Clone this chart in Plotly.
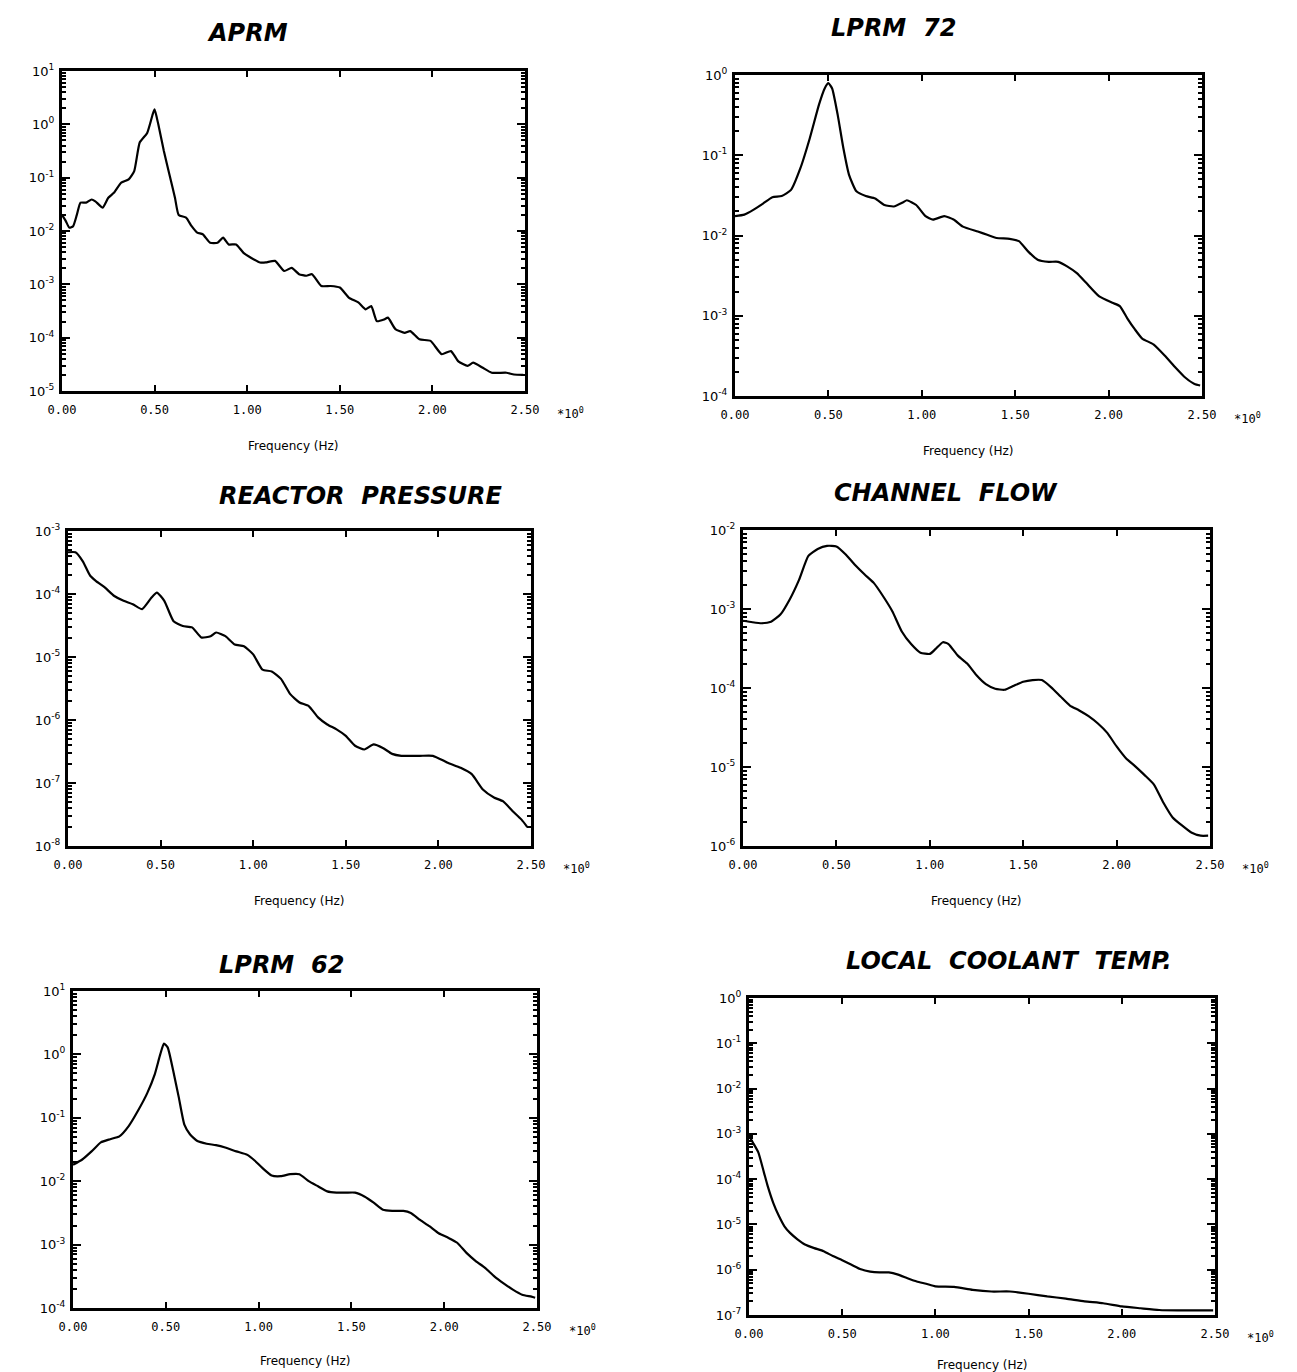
import plotly.graph_objects as go

W, H = 1297, 1372

# ---------------- data ----------------
aprm_f = [0.00, 0.02, 0.04, 0.06, 0.08, 0.10, 0.13, 0.16, 0.18, 0.22, 0.25, 0.28, 0.32, 0.36, 0.39,
          0.42, 0.46, 0.49, 0.50, 0.52, 0.55, 0.58, 0.61, 0.63, 0.67, 0.70, 0.73, 0.76, 0.80, 0.84,
          0.87, 0.90, 0.94, 0.98, 1.02, 1.07, 1.10, 1.15, 1.20, 1.24, 1.28, 1.32, 1.35, 1.40, 1.45,
          1.50, 1.55, 1.60, 1.64, 1.67, 1.70, 1.74, 1.76, 1.80, 1.85, 1.88, 1.93, 1.99, 2.05, 2.10,
          2.14, 2.19, 2.22, 2.27, 2.32, 2.40, 2.44, 2.49]
aprm_psd = [2.0e-2, 1.55e-2, 1.15e-2, 1.23e-2, 2.0e-2, 3.4e-2, 3.4e-2, 3.9e-2, 3.6e-2, 2.75e-2, 4.2e-2,
            5.2e-2, 8.1e-2, 9.3e-2, 1.33e-1, 4.6e-1, 6.9e-1, 1.55, 1.9, 1.0, 3.16e-1, 1.15e-1, 4.2e-2,
            2.0e-2, 1.78e-2, 1.23e-2, 9.3e-3, 8.7e-3, 6.0e-3, 6.0e-3, 7.5e-3, 5.6e-3, 5.6e-3, 3.9e-3,
            3.16e-3, 2.57e-3, 2.57e-3, 2.75e-3, 1.78e-3, 2.04e-3, 1.55e-3, 1.45e-3, 1.55e-3, 9.3e-4,
            9.3e-4, 8.7e-4, 5.6e-4, 4.6e-4, 3.4e-4, 3.9e-4, 2.04e-4, 2.2e-4, 2.37e-4, 1.45e-4, 1.23e-4,
            1.33e-4, 9.3e-5, 8.7e-5, 4.9e-5, 5.6e-5, 3.6e-5, 2.95e-5, 3.4e-5, 2.75e-5, 2.2e-5, 2.2e-5,
            2.04e-5, 2.0e-5]

lprm72_f = [0.00, 0.05, 0.10, 0.15, 0.20, 0.25, 0.30, 0.35, 0.40, 0.45, 0.48, 0.50, 0.52, 0.55, 0.58,
            0.61, 0.65, 0.70, 0.75, 0.80, 0.85, 0.90, 0.92, 0.97, 1.02, 1.06, 1.12, 1.17, 1.22, 1.30,
            1.35, 1.40, 1.47, 1.52, 1.57, 1.62, 1.68, 1.73, 1.78, 1.83, 1.88, 1.95, 2.02, 2.06, 2.10,
            2.14, 2.18, 2.24, 2.30, 2.36, 2.41, 2.46, 2.49]
lprm72_psd = [1.74e-2, 1.82e-2, 2.1e-2, 2.5e-2, 3.0e-2, 3.1e-2, 3.7e-2, 6.9e-2, 1.62e-1, 4.3e-1, 6.8e-1,
              7.9e-1, 6.8e-1, 3.16e-1, 1.23e-1, 5.75e-2, 3.55e-2, 3.1e-2, 2.9e-2, 2.4e-2, 2.3e-2, 2.6e-2,
              2.75e-2, 2.4e-2, 1.74e-2, 1.58e-2, 1.74e-2, 1.58e-2, 1.29e-2, 1.12e-2, 1.02e-2, 9.3e-3,
              9.1e-3, 8.5e-3, 6.3e-3, 5.0e-3, 4.7e-3, 4.7e-3, 4.1e-3, 3.4e-3, 2.57e-3, 1.74e-3, 1.45e-3,
              1.32e-3, 9.3e-4, 6.8e-4, 5.2e-4, 4.4e-4, 3.2e-4, 2.24e-4, 1.7e-4, 1.41e-4, 1.35e-4]

press_f = [0.00, 0.04, 0.08, 0.12, 0.15, 0.20, 0.25, 0.30, 0.35, 0.40, 0.45, 0.48, 0.52, 0.57, 0.62,
           0.67, 0.72, 0.77, 0.80, 0.85, 0.90, 0.95, 1.00, 1.05, 1.10, 1.15, 1.20, 1.25, 1.30, 1.35,
           1.40, 1.45, 1.50, 1.55, 1.60, 1.65, 1.70, 1.75, 1.80, 1.90, 1.97, 2.05, 2.12, 2.18, 2.24,
           2.30, 2.35, 2.40, 2.45, 2.48]
press_psd = [4.6e-4, 4.6e-4, 3.3e-4, 1.95e-4, 1.62e-4, 1.26e-4, 9.3e-5, 7.8e-5, 6.9e-5, 5.75e-5, 8.7e-5,
             1.05e-4, 7.8e-5, 3.7e-5, 3.1e-5, 2.95e-5, 2.04e-5, 2.14e-5, 2.45e-5, 2.14e-5, 1.58e-5,
             1.48e-5, 1.1e-5, 6.3e-6, 5.9e-6, 4.5e-6, 2.57e-6, 1.9e-6, 1.66e-6, 1.1e-6, 8.5e-7, 7.1e-7,
             5.6e-7, 3.9e-7, 3.4e-7, 4.1e-7, 3.6e-7, 2.9e-7, 2.7e-7, 2.7e-7, 2.7e-7, 2.1e-7, 1.74e-7,
             1.38e-7, 7.9e-8, 5.9e-8, 5.1e-8, 3.6e-8, 2.6e-8, 2.0e-8]

flow_f = [0.00, 0.05, 0.10, 0.15, 0.20, 0.25, 0.30, 0.35, 0.40, 0.45, 0.50, 0.55, 0.60, 0.65, 0.70,
          0.75, 0.80, 0.85, 0.90, 0.95, 1.00, 1.03, 1.07, 1.10, 1.15, 1.20, 1.25, 1.30, 1.35, 1.40,
          1.45, 1.50, 1.55, 1.60, 1.65, 1.70, 1.75, 1.80, 1.85, 1.90, 1.95, 2.00, 2.05, 2.10, 2.15,
          2.20, 2.25, 2.30, 2.35, 2.40, 2.45, 2.49]
flow_psd = [7.1e-4, 6.8e-4, 6.6e-4, 6.9e-4, 8.5e-4, 1.32e-3, 2.34e-3, 4.7e-3, 5.75e-3, 6.3e-3, 6.2e-3,
            4.9e-3, 3.6e-3, 2.75e-3, 2.14e-3, 1.45e-3, 9.3e-4, 5.2e-4, 3.6e-4, 2.8e-4, 2.7e-4, 3.1e-4,
            3.8e-4, 3.6e-4, 2.57e-4, 2.04e-4, 1.45e-4, 1.12e-4, 9.8e-5, 9.5e-5, 1.07e-4, 1.2e-4,
            1.26e-4, 1.26e-4, 1.02e-4, 7.8e-5, 6.0e-5, 5.2e-5, 4.4e-5, 3.55e-5, 2.7e-5, 1.82e-5,
            1.29e-5, 1.02e-5, 7.9e-6, 6.0e-6, 3.55e-6, 2.3e-6, 1.82e-6, 1.48e-6, 1.35e-6, 1.35e-6]

lprm62_f = [0.00, 0.05, 0.10, 0.15, 0.20, 0.25, 0.30, 0.35, 0.40, 0.44, 0.47, 0.49, 0.51, 0.54, 0.57,
            0.60, 0.63, 0.67, 0.72, 0.77, 0.82, 0.88, 0.94, 0.98, 1.02, 1.07, 1.12, 1.17, 1.22, 1.27,
            1.32, 1.37, 1.42, 1.47, 1.52, 1.57, 1.62, 1.67, 1.72, 1.78, 1.82, 1.87, 1.92, 1.97, 2.02,
            2.07, 2.12, 2.17, 2.22, 2.27, 2.32, 2.37, 2.42, 2.47, 2.49]
lprm62_psd = [1.82e-2, 2.2e-2, 2.95e-2, 4.1e-2, 4.6e-2, 5.1e-2, 7.4e-2, 1.29e-1, 2.45e-1, 4.8e-1, 1.0,
              1.48, 1.29, 5.5e-1, 2.1e-1, 7.8e-2, 5.5e-2, 4.3e-2, 3.9e-2, 3.7e-2, 3.4e-2, 2.95e-2,
              2.6e-2, 2.1e-2, 1.62e-2, 1.23e-2, 1.2e-2, 1.29e-2, 1.29e-2, 1.0e-2, 8.3e-3, 6.9e-3,
              6.6e-3, 6.6e-3, 6.6e-3, 5.75e-3, 4.6e-3, 3.55e-3, 3.4e-3, 3.4e-3, 3.16e-3, 2.45e-3,
              1.95e-3, 1.51e-3, 1.29e-3, 1.07e-3, 7.4e-4, 5.5e-4, 4.3e-4, 3.16e-4, 2.45e-4, 1.95e-4,
              1.62e-4, 1.51e-4, 1.45e-4]

temp_f = [0.00, 0.02, 0.05, 0.08, 0.10, 0.13, 0.16, 0.19, 0.22, 0.26, 0.30, 0.35, 0.40, 0.45, 0.50,
          0.55, 0.60, 0.65, 0.70, 0.75, 0.80, 0.85, 0.90, 0.95, 1.00, 1.10, 1.20, 1.30, 1.40, 1.50,
          1.60, 1.70, 1.80, 1.90, 2.00, 2.10, 2.20, 2.30, 2.40, 2.49]
temp_psd = [9.1e-4, 6.5e-4, 3.9e-4, 1.41e-4, 7.1e-5, 3.0e-5, 1.55e-5, 9.1e-6, 6.5e-6, 4.7e-6, 3.6e-6,
            3.0e-6, 2.57e-6, 2.0e-6, 1.62e-6, 1.29e-6, 1.02e-6, 9.1e-7, 8.7e-7, 8.7e-7, 7.8e-7, 6.5e-7,
            5.5e-7, 4.9e-7, 4.3e-7, 4.2e-7, 3.6e-7, 3.3e-7, 3.3e-7, 2.95e-7, 2.57e-7, 2.3e-7, 2.0e-7,
            1.82e-7, 1.55e-7, 1.41e-7, 1.29e-7, 1.26e-7, 1.26e-7, 1.26e-7]

titles = ["APRM", "LPRM\u00a0\u00a072", "REACTOR\u00a0\u00a0PRESSURE", "CHANNEL\u00a0\u00a0FLOW",
          "LPRM\u00a0\u00a062", "LOCAL\u00a0\u00a0COOLANT\u00a0\u00a0TEMP."]
x_ticks = [0.0, 0.5, 1.0, 1.5, 2.0, 2.5]
x_tick_text = ["0.00", "0.50", "1.00", "1.50", "2.00", "2.50"]
y_decades = [(-5, 1), (-4, 0), (-8, -3), (-6, -2), (-4, 1), (-7, 0)]
minor_mantissas = [2, 3, 4, 5, 6, 7, 8, 9]
x_label = "Frequency (Hz)"

series = [(aprm_f, aprm_psd), (lprm72_f, lprm72_psd), (press_f, press_psd),
          (flow_f, flow_psd), (lprm62_f, lprm62_psd), (temp_f, temp_psd)]

# ---------------- layout (pixel boxes of each plot frame) ----------------
frames = [(54, 517, 63, 383), (727, 1194, 67, 388), (60, 523, 523, 838),
          (735, 1202, 522, 838), (65, 529, 983, 1300), (741, 1207, 990, 1307)]
title_pos = [(239, 25), (885, 20), (352, 488), (938, 485), (273, 957), (1001, 953)]
xlabel_gap = [55, 55, 55, 55, 53, 50]

def px(x):
    return x / W

def py(y):
    return 1 - y / H

fig = go.Figure()
layout = dict(width=W, height=H, autosize=False, margin=dict(l=0, r=0, t=0, b=0, pad=0),
              paper_bgcolor="white", plot_bgcolor="white", showlegend=False, template="none",
              font=dict(family="DejaVu Sans", color="black"))
annotations = []

for i, ((f, p), (x0, x1, y0, y1), (lo, hi)) in enumerate(zip(series, frames, y_decades)):
    k = "" if i == 0 else str(i + 1)
    fig.add_trace(go.Scatter(x=f, y=p, mode="lines", xaxis="x" + k, yaxis="y" + k,
                             line=dict(color="black", width=2.2, shape="spline", smoothing=0.5)))
    layout["xaxis" + k] = dict(domain=[px(x0), px(x1)], anchor="y" + k, range=[0, 2.5],
                               automargin=False,
                               tickvals=x_ticks, ticktext=x_tick_text, ticks="inside", ticklen=6,
                               tickwidth=2, tickcolor="black", showline=True, linewidth=3,
                               linecolor="black", mirror="allticks", showgrid=False, zeroline=False,
                               tickfont=dict(size=12, family="DejaVu Sans Mono"), ticklabelstandoff=6)
    tv = [10.0 ** e for e in range(lo, hi + 1)]
    tt = ["10<sup>%d</sup>" % e for e in range(lo, hi + 1)]
    mv = [m * 10.0 ** e for e in range(lo, hi) for m in minor_mantissas]
    layout["yaxis" + k] = dict(domain=[py(y1), py(y0)], anchor="x" + k, type="log",
                               automargin=False,
                               range=[lo, hi], tickvals=tv, ticktext=tt, ticks="inside", ticklen=8,
                               tickwidth=2, tickcolor="black", showline=True, linewidth=3,
                               linecolor="black", mirror="allticks", showgrid=False, zeroline=False,
                               minor=dict(ticks="inside", ticklen=4, tickcolor="black", tickwidth=1.5,
                                          tickvals=mv, showgrid=False),
                               tickfont=dict(size=13, family="DejaVu Sans"), ticklabelstandoff=2)
    tx, ty = title_pos[i]
    annotations.append(dict(x=px(tx), y=py(ty), xref="paper", yref="paper", showarrow=False,
                            text="<b><i>%s</i></b>" % titles[i], xanchor="center", yanchor="middle",
                            font=dict(size=24, family="DejaVu Sans", color="black")))
    annotations.append(dict(x=px((x0 + x1) / 2), y=py(y1 + xlabel_gap[i]), xref="paper", yref="paper",
                            showarrow=False, text=x_label, xanchor="center", yanchor="middle",
                            font=dict(size=12, family="DejaVu Sans", color="black")))
    annotations.append(dict(x=px(x1 + 30), y=py(y1 + 22), xref="paper", yref="paper",
                            showarrow=False, text="*10<sup>0</sup>", xanchor="left",
                            yanchor="middle", font=dict(size=12, family="DejaVu Sans Mono",
                                                        color="black")))

layout["annotations"] = annotations
fig.update_layout(**layout)
fig.write_html("out.html")
